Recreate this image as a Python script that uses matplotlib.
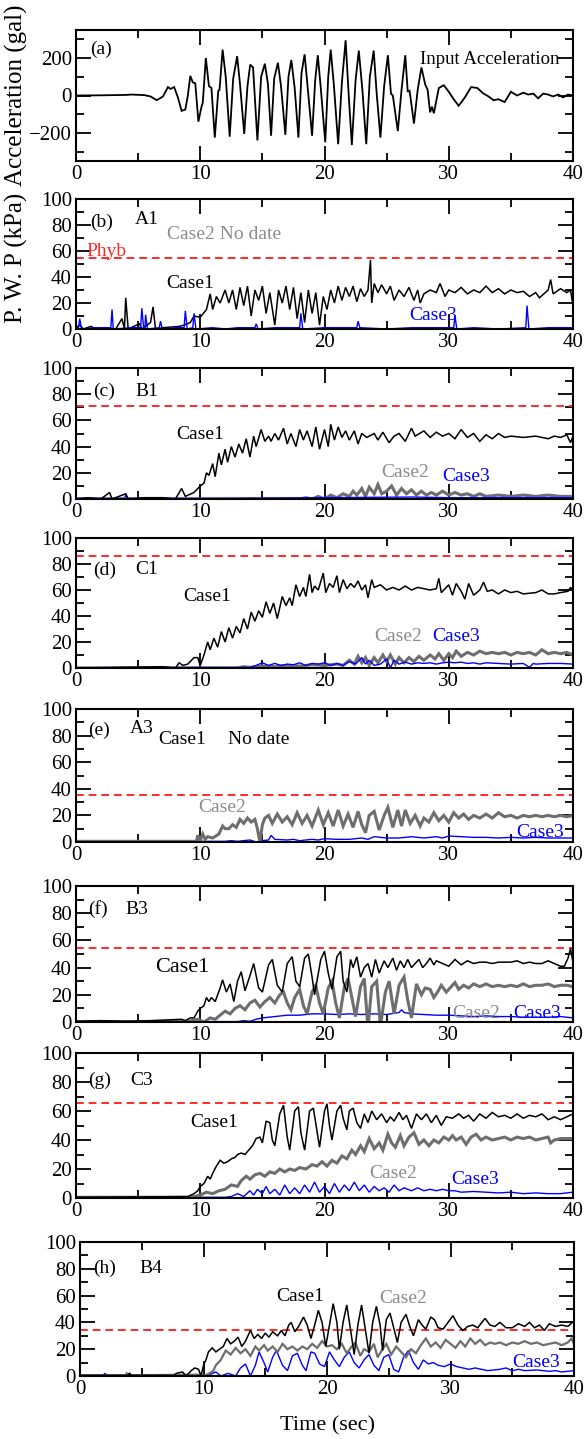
import matplotlib
matplotlib.use("Agg")
import matplotlib.pyplot as plt
from matplotlib.ticker import MultipleLocator

plt.rcParams['font.family'] = ['Liberation Serif', 'DejaVu Serif']

W, H = 585, 1439

# ---- input acceleration (gal), (time, value) ----
acc = [(0, 0), (2, 1), (4, 3), (4.5, 5), (5.5, 2), (6.0, -5), (6.5, -25), (7.0, -5),
       (7.4, 45), (7.6, 35), (7.9, 45), (8.2, -10), (8.5, -82), (8.8, -75), (9.0, 0),
       (9.2, 105), (9.4, 70), (9.6, 65), (9.85, -140), (10.1, -60), (10.2, -40),
       (10.45, 200), (10.7, 50), (10.9, 40), (11.17, -225), (11.45, 25), (11.55, 30),
       (11.8, 245), (12.05, 100), (12.37, -220), (12.65, 90), (12.97, 210), (13.2, 60),
       (13.54, -205), (13.8, 50), (14.02, 165), (14.25, 150), (14.6, -240), (14.9, 100),
       (15.2, 170), (15.45, 60), (15.7, -215), (15.95, 90), (16.25, 175), (16.5, 50),
       (16.85, -210), (17.1, 100), (17.33, 190), (17.6, 40), (17.9, -225), (18.15, 120),
       (18.4, 220), (18.65, 40), (19.0, -215), (19.25, 80), (19.46, 215), (19.7, 40),
       (20.06, -250), (20.3, 100), (20.5, 245), (20.75, 60), (21.1, -260), (21.4, 70),
       (21.7, 295), (21.95, 0), (22.2, -265), (22.5, 80), (22.76, 240), (23.05, 30),
       (23.36, -260), (23.65, 100), (23.96, 240), (24.2, 10), (24.5, -225), (24.8, 50),
       (25.1, 215), (25.35, 10), (25.5, 0), (25.9, -190), (26.2, 30), (26.5, 215),
       (26.7, 20), (26.85, 25), (27.2, -150), (27.5, 30), (27.8, 150), (28.1, 60),
       (28.3, 30), (28.5, -90), (28.65, -60), (28.8, -95), (29.2, 40), (29.6, 55),
       (30.0, 20), (30.4, -20), (30.8, -55), (31.3, -10), (31.8, 45), (32.3, 40),
       (32.8, 10), (33.2, -5), (33.6, -25), (34.0, -20), (34.5, -35), (35.0, 20),
       (35.5, 0), (36.0, 15), (36.4, 5), (36.8, 10), (37.2, -15), (37.6, 10), (38.0, 5),
       (38.4, -5), (38.8, 5), (39.2, -10), (39.6, 5), (40.0, 0)]

# ---- pore water pressure (kPa), (time, value) ----
b_case1 = [(0, 1), (0.3, 3), (0.6, 0), (1.2, 2), (1.6, 0), (2.5, 1), (3.2, 0), (3.7, 8),
           (3.9, 0), (4.0, 24), (4.2, 0), (5.1, 4), (5.3, 0), (6.0, 5), (6.2, 17), (6.4, 0),
           (7.0, 1), (8.3, 2), (8.7, 3), (9.2, 5), (9.5, 10), (10.0, 9), (10.5, 15),
           (10.8, 27), (11.0, 15), (11.3, 25), (11.6, 20), (12.0, 30), (12.3, 20), (12.6, 30),
           (12.9, 15), (13.2, 32), (13.5, 18), (13.8, 33), (14.1, 10), (14.4, 30), (14.7, 22),
           (15.0, 33), (15.3, 12), (15.6, 28), (16.0, 3), (16.3, 30), (16.6, 20), (16.9, 33),
           (17.2, 15), (17.5, 32), (17.8, 8), (18.1, 28), (18.4, 5), (18.7, 30), (19.0, 12),
           (19.3, 28), (19.6, 3), (19.9, 25), (20.2, 15), (20.5, 30), (20.8, 20), (21.1, 33),
           (21.4, 22), (21.7, 32), (22.0, 25), (22.3, 33), (22.6, 21), (22.9, 31), (23.2, 25),
           (23.5, 30), (23.7, 53), (23.8, 20), (24.0, 35), (24.3, 28), (24.6, 34), (25.0, 27),
           (25.3, 33), (25.6, 22), (26.0, 30), (26.4, 25), (26.8, 32), (27.2, 22), (27.5, 30),
           (27.7, 20), (28.0, 27), (28.5, 30), (29.0, 28), (29.3, 35), (29.7, 25), (30.0, 30),
           (30.5, 28), (31.0, 32), (31.5, 27), (32.0, 30), (32.5, 28), (33.0, 33), (33.5, 28),
           (34.0, 31), (34.5, 27), (35.0, 30), (35.5, 28), (36.0, 29), (36.5, 25), (37.0, 28),
           (37.3, 24), (38.0, 30), (38.2, 38), (38.4, 27), (39.0, 31), (39.5, 28), (39.8, 30),
           (40.0, 18)]
b_case3 = [(0, 1), (0.2, 1), (0.3, 8), (0.45, 0), (1.5, 1), (2.8, 1), (2.9, 15), (3.0, 0),
           (4.5, 1), (5.2, 1), (5.3, 16), (5.45, 0), (5.55, 1), (5.6, 11), (5.75, 0), (6.7, 1),
           (6.8, 6), (6.95, 0), (8.0, 1), (8.7, 1), (8.8, 14), (8.95, 0), (9.4, 1), (9.5, 12),
           (9.65, 0), (11, 1), (12, 0), (13, 1), (14.4, 1), (14.5, 4), (14.65, 0), (16, 1),
           (18.0, 1), (18.1, 12), (18.25, 0), (20, 1), (22.6, 1), (22.7, 6), (22.85, 1),
           (25, 0), (27, 1), (30.4, 1), (30.5, 10), (30.65, 0), (32, 1), (34, 0), (36.2, 1),
           (36.3, 18), (36.45, 0), (38, 1), (40, 1)]

c_case1 = [(0, 0), (1.0, 1), (2.0, 0), (2.7, 5), (2.9, 0), (4.0, 4), (4.2, 0), (5.5, 1),
           (7.0, 1), (8.0, 0), (8.5, 8), (8.8, 2), (9.5, 5), (10.0, 10), (10.3, 12),
           (10.5, 20), (10.7, 18), (11.0, 27), (11.2, 17), (11.5, 35), (11.7, 26), (12.0, 38),
           (12.2, 28), (12.5, 40), (12.8, 32), (13.1, 42), (13.4, 35), (13.7, 46), (14.0, 32),
           (14.3, 48), (14.5, 40), (14.9, 53), (15.2, 44), (15.5, 48), (15.7, 44), (16.0, 50),
           (16.3, 45), (16.7, 54), (17.0, 42), (17.3, 50), (17.7, 40), (18.0, 53), (18.3, 45),
           (18.6, 52), (19.0, 40), (19.3, 55), (19.6, 38), (20.0, 53), (20.3, 40), (20.5, 57),
           (20.8, 45), (21.1, 55), (21.4, 47), (21.7, 52), (22.0, 45), (22.4, 52), (22.7, 42),
           (23.0, 50), (23.4, 47), (24.0, 50), (24.3, 45), (24.7, 51), (25.2, 43), (25.6, 48),
           (26.0, 50), (26.5, 44), (27.0, 54), (27.3, 48), (28.0, 52), (28.5, 47), (29.0, 51),
           (29.5, 48), (30.0, 50), (30.5, 46), (31.0, 53), (31.5, 47), (32.0, 50), (32.5, 44),
           (33.0, 49), (33.5, 46), (34.0, 50), (34.5, 47), (35.0, 48), (36.0, 47), (37.0, 48),
           (38.0, 46), (38.5, 48), (39.0, 47), (39.5, 49), (39.8, 43), (40.0, 48)]
c_case2 = [(0, 0), (18.0, 0), (18.5, 1), (19.0, 0), (19.5, 2), (20.0, 0), (20.5, 3),
           (21.0, 1), (21.5, 4), (22.0, 2), (22.3, 6), (22.6, 3), (23.0, 8), (23.3, 2),
           (23.6, 9), (24.0, 4), (24.3, 11), (24.6, 4), (25.0, 6), (25.4, 10), (25.8, 3),
           (26.2, 8), (26.6, 4), (27.0, 7), (27.4, 3), (27.8, 6), (28.2, 3), (28.6, 5),
           (29.0, 3), (29.5, 6), (30.0, 3), (30.5, 5), (31.0, 3), (31.5, 4), (32.0, 2),
           (32.5, 4), (33.0, 2), (34.0, 3), (35.0, 2), (36.0, 3), (37.0, 2), (38.0, 3),
           (39.0, 2), (40.0, 2)]
c_case3 = [(0, 0.5), (3.9, 0.5), (4.0, 3), (4.2, 0.5), (10, 0.5), (20, 1), (27, 1.5),
           (30, 1), (40, 1)]

d_case1 = [(0, 0), (7.0, 1), (8.0, 0), (8.3, 4), (8.6, 2), (9.0, 3), (9.5, 8), (9.8, 8),
           (10.0, 2), (10.3, 10), (10.6, 20), (10.8, 14), (11.1, 23), (11.4, 16), (11.7, 28),
           (12.0, 20), (12.3, 31), (12.6, 23), (12.9, 32), (13.2, 27), (13.5, 38), (13.8, 30),
           (14.1, 43), (14.4, 36), (14.7, 44), (15.0, 39), (15.3, 51), (15.6, 42), (15.9, 50),
           (16.2, 38), (16.6, 55), (16.9, 48), (17.2, 54), (17.4, 48), (17.7, 64), (18.0, 55),
           (18.3, 62), (18.5, 55), (18.8, 72), (19.0, 58), (19.2, 63), (19.5, 60), (19.9, 73),
           (20.1, 58), (20.4, 65), (20.7, 62), (21.0, 71), (21.2, 58), (21.5, 68), (21.8, 61),
           (22.1, 65), (22.4, 62), (22.7, 67), (23.0, 60), (23.3, 64), (23.5, 54), (23.8, 68),
           (24.0, 62), (24.5, 64), (25.0, 60), (25.5, 62), (26.0, 60), (26.5, 63), (27.0, 60),
           (27.5, 62), (28.0, 61), (28.5, 60), (29.0, 61), (29.2, 69), (29.4, 58), (30.0, 64),
           (30.3, 56), (30.6, 65), (31.0, 59), (31.3, 53), (31.6, 65), (32.0, 56), (32.5, 60),
           (32.8, 66), (33.1, 59), (33.5, 60), (34.0, 57), (34.5, 60), (35.0, 58), (35.5, 59),
           (36.0, 57), (37.0, 58), (37.5, 60), (38.0, 57), (38.5, 57), (39.0, 58), (39.6, 59),
           (39.8, 62), (40.0, 60)]
d_case2 = [(0, 0), (13.0, 0), (13.5, 1), (14.0, 0.5), (15.0, 1.5), (16.0, 1), (17.0, 2),
           (18.0, 1.5), (19.0, 2.5), (20.0, 2), (21.0, 3), (21.5, 2), (22.0, 6), (22.4, 3),
           (22.7, 9), (23.0, 4), (23.3, 8), (23.6, 2), (24.0, 8), (24.3, 4), (24.7, 10),
           (25.0, 5), (25.3, 10), (25.7, 3), (26.0, 8), (26.4, 4), (26.8, 8), (27.2, 5),
           (27.6, 9), (28.0, 6), (28.5, 10), (28.9, 7), (29.2, 11), (29.6, 6), (30.0, 11),
           (30.3, 8), (30.6, 13), (31.0, 9), (31.5, 12), (32.0, 10), (32.5, 13), (33.0, 11),
           (33.5, 12), (34.0, 11), (34.5, 12), (35.0, 10), (35.5, 12), (36.0, 11), (36.5, 12),
           (37.0, 10), (37.5, 14), (38.0, 11), (38.5, 12), (39.0, 11), (39.5, 12), (40.0, 10)]
d_case3 = [(0, 0.3), (14.0, 0.5), (14.5, 2), (15.0, 4), (15.5, 2), (16.0, 3.5), (16.5, 2),
           (17.0, 3), (17.5, 2.5), (18.0, 4), (18.5, 2), (19.0, 3.5), (19.5, 3), (20.0, 4),
           (20.5, 2), (21.0, 3.5), (21.5, 2), (22.0, 5), (22.5, 3), (23.0, 8), (23.3, 3),
           (23.6, 6), (24.0, 2), (24.5, 3), (25.0, 7), (25.3, 0), (25.6, 6), (26.0, 3),
           (26.5, 4.5), (27.0, 3), (27.5, 4), (28.0, 3.5), (28.5, 4), (29.0, 3), (29.5, 4),
           (30.0, 4.5), (30.5, 4), (31.0, 4.5), (31.5, 3.5), (32.0, 4), (32.5, 3), (33.0, 4),
           (34.0, 3.5), (35.0, 3), (36.0, 3.5), (36.5, 0.5), (36.8, 3.5), (37.0, 3),
           (38.0, 3.5), (39.0, 3.5), (40.0, 3)]

e_case2 = [(0, 0.5), (9.7, 0.5), (9.8, 5), (10.0, 1), (10.2, 6), (10.4, 2), (10.6, 4),
           (11.0, 3), (11.5, 6), (11.8, 12), (12.0, 10), (12.3, 10), (12.6, 13), (12.9, 11),
           (13.2, 17), (13.5, 14), (13.8, 18), (14.1, 15), (14.4, 17), (14.6, 10), (14.8, 0),
           (15.0, 13), (15.2, 18), (15.5, 20), (15.8, 14), (16.2, 21), (16.6, 15), (17.0, 19),
           (17.4, 13), (17.8, 22), (18.2, 14), (18.6, 20), (19.0, 12), (19.5, 24), (19.9, 13),
           (20.3, 22), (20.7, 12), (21.1, 24), (21.5, 12), (21.9, 21), (22.3, 11), (22.7, 23),
           (23.0, 13), (23.3, 7), (23.6, 20), (24.0, 23), (24.4, 9), (24.8, 20), (25.1, 26),
           (25.5, 11), (25.9, 24), (26.2, 12), (26.5, 24), (26.9, 14), (27.3, 20), (27.7, 12),
           (28.0, 18), (28.4, 15), (28.8, 22), (29.2, 16), (29.6, 20), (30.0, 15), (30.4, 22),
           (30.8, 18), (31.2, 21), (31.6, 17), (32.0, 20), (32.5, 18), (33.0, 21), (33.5, 18),
           (34.0, 22), (34.5, 19), (35.0, 20), (35.5, 18), (36.0, 20), (36.5, 19), (37.0, 20),
           (37.5, 19), (38.0, 20), (38.5, 19), (39.0, 20), (39.5, 19), (40.0, 20)]
e_case3 = [(0, 0.5), (12.0, 0.5), (12.5, 1), (13.0, 0.5), (14.0, 1.5), (14.5, 0), (15.0, 1),
           (15.5, 1.5), (15.7, 5), (16.0, 2), (17.0, 1.5), (17.5, 2), (18.0, 1), (19.0, 2),
           (19.5, 1.5), (20.0, 2.5), (21.0, 2), (22.0, 2), (23.0, 3), (23.5, 2), (24.0, 4),
           (25.0, 3), (26.0, 3), (27.0, 4), (28.0, 3), (29.0, 4), (29.5, 3), (30.0, 4.5),
           (31.0, 4), (32.0, 3.5), (33.0, 3.5), (34.0, 3), (35.0, 3.5), (36.0, 3), (37.0, 3.5),
           (38.0, 3), (39.0, 3), (40.0, 3)]

f_case1 = [(0, 0.5), (2.0, 1), (4.0, 0.5), (6.0, 1), (8.5, 2), (8.8, 1), (9.2, 3), (9.5, 3),
           (9.8, 8), (10.0, 10), (10.3, 12), (10.5, 18), (10.7, 15), (10.9, 18), (11.2, 15),
           (11.6, 25), (11.8, 31), (12.1, 22), (12.4, 28), (12.7, 15), (13.0, 30), (13.3, 37),
           (13.6, 23), (14.0, 34), (14.3, 43), (14.7, 25), (15.0, 22), (15.5, 42), (15.8, 46),
           (16.2, 27), (16.6, 22), (17.0, 43), (17.4, 48), (17.7, 30), (18.0, 26), (18.4, 47),
           (18.7, 50), (19.0, 33), (19.2, 20), (19.7, 46), (20.0, 52), (20.3, 36), (20.6, 24),
           (21.0, 48), (21.3, 52), (21.5, 30), (21.8, 22), (22.1, 46), (22.3, 40), (22.6, 48),
           (22.9, 33), (23.2, 40), (23.5, 43), (23.8, 33), (24.1, 46), (24.4, 36), (24.8, 45),
           (25.1, 40), (25.5, 47), (25.8, 38), (26.1, 45), (26.4, 40), (26.7, 46), (27.0, 40),
           (27.3, 43), (27.6, 46), (27.9, 40), (28.2, 43), (28.5, 47), (28.8, 42), (29.0, 45),
           (29.5, 43), (30.0, 41), (30.5, 46), (31.0, 42), (31.5, 45), (32.0, 43), (32.5, 44),
           (33.0, 44), (33.5, 43), (34.0, 44), (35.0, 44), (35.5, 45), (36.0, 43), (36.5, 44),
           (37.0, 43), (37.5, 43), (38.0, 45), (38.5, 43), (39.0, 41), (39.3, 41), (39.6, 47),
           (39.8, 54), (40.0, 44)]
f_case2 = [(0, 0.3), (9.0, 0.3), (9.3, 1), (9.8, 2), (10.3, 0), (10.8, 3), (11.2, 2),
           (11.6, 5), (12.0, 8), (12.4, 6), (12.8, 10), (13.2, 12), (13.6, 9), (14.0, 14),
           (14.4, 16), (14.8, 11), (15.2, 15), (15.6, 18), (16.0, 14), (16.4, 20), (16.7, 22),
           (17.0, 14), (17.3, 9), (17.6, 18), (18.0, 24), (18.3, 12), (18.6, 6), (19.0, 22),
           (19.3, 27), (19.6, 14), (19.9, 6), (20.3, 25), (20.6, 30), (20.9, 14), (21.2, 3),
           (21.6, 26), (21.9, 32), (22.2, 18), (22.5, 4), (22.9, 26), (23.2, 32), (23.5, -5),
           (23.8, 26), (24.2, 30), (24.5, -3), (24.9, 22), (25.2, 30), (25.6, 6), (26.0, 27),
           (26.4, 33), (26.7, 16), (27.0, 3), (27.4, 28), (27.8, 20), (28.1, 25), (28.5, 24),
           (28.8, 18), (29.1, 22), (29.4, 27), (29.8, 22), (30.1, 25), (30.5, 29), (30.8, 24),
           (31.2, 27), (31.6, 25), (32.0, 28), (32.5, 26), (33.0, 28), (33.5, 26), (34.0, 27),
           (34.5, 26), (35.0, 27), (35.5, 26), (36.0, 28), (36.5, 26), (37.0, 27), (37.5, 27),
           (38.0, 28), (38.5, 26), (39.0, 27), (39.5, 27), (40.0, 26)]
f_case3 = [(0, 0.3), (13.0, 0.3), (13.5, 1), (14.0, 0.5), (14.5, 2), (15.0, 3), (16.0, 4),
           (17.0, 5), (18.0, 5), (19.0, 6), (20.0, 6), (21.0, 5.5), (22.0, 6), (23.0, 5.5),
           (24.0, 6), (25.0, 5.5), (26.0, 7), (26.2, 9), (26.4, 7), (27.0, 6), (28.0, 5.5),
           (29.0, 5), (30.0, 5), (31.0, 4.5), (32.0, 4), (33.0, 4.5), (34.0, 4), (35.0, 4),
           (36.0, 3.5), (37.0, 3.5), (38.0, 3.5), (39.0, 4), (40.0, 3)]

g_case1 = [(0, 0.5), (9.0, 1), (9.5, 3), (9.8, 5), (10.0, 8), (10.3, 10), (10.6, 15),
           (10.8, 13), (11.0, 17), (11.3, 22), (11.6, 26), (11.9, 24), (12.2, 25), (12.5, 27),
           (12.8, 28), (13.0, 30), (13.3, 31), (13.6, 30), (13.9, 33), (14.2, 36), (14.5, 41),
           (14.8, 42), (15.0, 38), (15.3, 53), (15.6, 52), (15.8, 40), (16.0, 36), (16.4, 58),
           (16.7, 64), (17.0, 42), (17.2, 33), (17.6, 60), (17.9, 63), (18.1, 45), (18.4, 33),
           (18.8, 60), (19.1, 62), (19.4, 46), (19.6, 35), (20.0, 60), (20.2, 65), (20.4, 50),
           (20.6, 40), (21.0, 60), (21.3, 64), (21.5, 55), (21.8, 47), (22.0, 60), (22.3, 62),
           (22.6, 52), (22.9, 48), (23.2, 58), (23.5, 52), (23.8, 60), (24.2, 54), (24.6, 58),
           (25.0, 52), (25.3, 56), (25.6, 53), (26.0, 59), (26.3, 54), (26.6, 57), (27.0, 48),
           (27.4, 58), (27.8, 54), (28.2, 58), (28.6, 52), (29.0, 57), (29.4, 50), (29.8, 56),
           (30.3, 55), (30.8, 58), (31.2, 55), (31.6, 57), (32.0, 53), (32.5, 58), (33.0, 55),
           (33.5, 59), (34.0, 56), (34.5, 57), (35.0, 55), (35.5, 58), (36.0, 55), (36.5, 57),
           (37.0, 56), (37.5, 58), (38.0, 54), (38.5, 56), (39.0, 54), (39.5, 56), (40.0, 58)]
g_case2 = [(0, 0.5), (9.0, 0.5), (9.5, 1), (10.0, 2), (10.5, 4), (11.0, 3), (11.5, 5),
           (12.0, 6), (12.5, 9), (13.0, 8), (13.3, 12), (13.7, 15), (14.0, 13), (14.4, 16),
           (14.8, 17), (15.2, 15), (15.6, 18), (16.0, 17), (16.4, 20), (16.8, 18), (17.2, 20),
           (17.6, 19), (18.0, 21), (18.5, 20), (19.0, 23), (19.4, 22), (19.8, 25), (20.2, 22),
           (20.6, 26), (21.0, 24), (21.4, 29), (21.8, 27), (22.2, 33), (22.5, 30), (22.9, 36),
           (23.2, 32), (23.6, 41), (24.0, 34), (24.4, 38), (24.7, 33), (25.1, 44), (25.4, 38),
           (25.7, 35), (26.1, 43), (26.4, 36), (26.8, 42), (27.2, 45), (27.6, 37), (28.0, 40),
           (28.4, 36), (28.8, 40), (29.2, 38), (29.6, 42), (30.0, 40), (30.3, 43), (30.6, 40),
           (31.0, 42), (31.4, 37), (31.8, 42), (32.2, 44), (32.6, 40), (33.0, 42), (33.5, 40),
           (34.0, 41), (34.5, 42), (35.0, 40), (35.5, 42), (36.0, 41), (36.5, 42), (37.0, 40),
           (37.5, 41), (38.0, 42), (38.2, 38), (38.5, 40), (39.0, 41), (39.5, 41), (40.0, 41)]
g_case3 = [(0, 0.5), (12.0, 0.5), (12.5, 1), (13.0, 3), (13.5, 1), (14.0, 5), (14.3, 2),
           (14.6, 6), (15.0, 3), (15.3, 8), (15.6, 3), (16.0, 6), (16.4, 2), (16.8, 9),
           (17.2, 3), (17.6, 7), (18.0, 3), (18.4, 9), (18.8, 4), (19.2, 11), (19.6, 4),
           (20.0, 8), (20.4, 3), (20.8, 10), (21.2, 4), (21.6, 9), (22.0, 5), (22.4, 11),
           (22.8, 5), (23.2, 9), (23.6, 4), (24.0, 8), (24.4, 5), (24.8, 7), (25.2, 4),
           (25.6, 9), (26.0, 5), (26.4, 7), (27.0, 5), (27.5, 7), (28.0, 5), (28.5, 6),
           (29.0, 5), (29.5, 6), (30.0, 5), (30.5, 5), (31.0, 4), (32.0, 4.5), (33.0, 4),
           (34.0, 3.5), (35.0, 4), (36.0, 3), (37.0, 3.5), (38.0, 3), (39.0, 3), (40.0, 4)]

h_case1 = [(0, 0.5), (3.9, 0.5), (4.0, 2), (4.2, 0.5), (7.6, 0.5), (7.8, 2), (8.3, 3),
           (8.6, 0), (9.0, 4), (9.3, 6), (9.6, 5), (9.8, 0), (10.0, 8), (10.2, 12), (10.4, 18),
           (10.7, 21), (11.0, 18), (11.3, 20), (11.6, 22), (11.9, 28), (12.2, 24), (12.5, 26),
           (12.8, 29), (13.1, 22), (13.4, 26), (13.8, 34), (14.1, 28), (14.4, 31), (14.7, 28),
           (15.0, 32), (15.3, 29), (15.6, 33), (16.0, 30), (16.3, 34), (16.6, 30), (16.9, 38),
           (17.1, 40), (17.4, 33), (17.7, 37), (18.1, 44), (18.4, 38), (18.7, 28), (19.0, 38),
           (19.3, 49), (19.6, 40), (19.9, 22), (20.2, 38), (20.5, 54), (20.8, 40), (21.0, 20),
           (21.3, 40), (21.6, 53), (21.9, 35), (22.2, 16), (22.5, 38), (22.8, 53), (23.1, 35),
           (23.4, 17), (23.7, 40), (24.0, 52), (24.3, 38), (24.5, 19), (24.8, 42), (25.1, 47),
           (25.4, 36), (25.7, 25), (26.0, 40), (26.4, 46), (26.7, 37), (27.0, 30), (27.4, 42),
           (27.7, 38), (28.0, 35), (28.4, 44), (28.7, 42), (29.0, 36), (29.4, 35), (29.8, 40),
           (30.2, 45), (30.6, 38), (31.0, 34), (31.4, 37), (31.8, 38), (32.2, 36), (32.8, 43),
           (33.2, 38), (33.6, 37), (34.0, 40), (34.5, 36), (35.0, 36), (35.5, 39), (36.0, 37),
           (36.4, 40), (36.8, 36), (37.2, 38), (37.6, 34), (38.0, 39), (38.5, 37), (39.0, 38),
           (39.5, 37), (40.0, 41)]
h_case2 = [(0, 0.5), (3.7, 0.5), (3.8, 2), (4.0, 0.5), (9.6, 1), (10.0, 0), (10.5, 2),
           (10.8, 4), (11.0, 8), (11.4, 12), (11.8, 19), (12.2, 16), (12.6, 21), (13.0, 17),
           (13.4, 20), (13.8, 15), (14.2, 22), (14.5, 19), (14.9, 23), (15.2, 19), (15.6, 22),
           (16.0, 18), (16.4, 24), (16.8, 20), (17.2, 22), (17.6, 19), (18.0, 22), (18.4, 20),
           (18.8, 24), (19.2, 21), (19.6, 26), (20.0, 22), (20.4, 23), (20.8, 20), (21.2, 24),
           (21.6, 17), (22.0, 22), (22.3, 25), (22.7, 15), (23.0, 20), (23.4, 18), (23.8, 24),
           (24.1, 14), (24.5, 20), (24.8, 24), (25.2, 16), (25.6, 22), (26.0, 18), (26.4, 14),
           (26.8, 20), (27.2, 17), (27.6, 23), (28.0, 28), (28.4, 22), (28.8, 25), (29.2, 21),
           (29.6, 27), (30.0, 24), (30.4, 21), (30.8, 26), (31.2, 22), (31.6, 28), (32.0, 24),
           (32.4, 27), (32.8, 23), (33.2, 25), (33.6, 24), (34.0, 25), (34.5, 23), (35.0, 25),
           (35.5, 24), (36.0, 26), (36.5, 24), (37.0, 25), (37.5, 23), (38.0, 24), (38.5, 25),
           (39.0, 23), (39.5, 25), (39.8, 28), (40.0, 24)]
h_case3 = [(0, 0.5), (1.9, 0.5), (2.0, 2), (2.2, 0.5), (10.0, 0.5), (10.5, 1), (11.0, 3),
           (11.4, 0), (12.0, 2), (12.6, 0), (13.0, 6), (13.4, 9), (13.8, 0), (14.2, 8),
           (14.5, 18), (14.9, 10), (15.2, 3), (15.6, 14), (15.9, 19), (16.4, 8), (16.8, 4),
           (17.2, 15), (17.6, 17), (18.0, 8), (18.3, 4), (18.7, 18), (19.0, 17), (19.4, 9),
           (19.8, 7), (20.2, 18), (20.6, 12), (21.0, 7), (21.4, 14), (21.8, 18), (22.2, 10),
           (22.6, 6), (23.0, 12), (23.4, 16), (23.8, 8), (24.2, 4), (24.6, 14), (25.0, 16),
           (25.4, 5), (25.8, 3), (26.2, 14), (26.6, 19), (27.0, 10), (27.4, 5), (27.8, 12),
           (28.2, 9), (28.6, 10), (29.0, 8), (29.5, 7), (30.0, 9), (30.5, 7), (31.0, 6),
           (31.5, 5), (32.0, 6), (33.0, 4), (34.0, 5), (34.5, 6), (35.0, 4), (35.5, 5),
           (36.0, 4), (37.0, 4.5), (38.0, 3.5), (38.5, 4), (39.0, 3), (39.5, 3.5), (40.0, 4)]

# hydrostatic reference level for each station (kPa)
phyb = {'b': 54.5, 'c': 71, 'd': 86, 'e': 35.5, 'f': 54.5, 'g': 65.5, 'h': 34.5}

# axes boxes in pixels: left, top, right, bottom
boxes = {'a': (76, 30, 573, 161), 'b': (76, 199, 573, 329), 'c': (76, 368, 573, 499),
         'd': (76, 538, 573, 668), 'e': (76, 709, 573, 842), 'f': (76, 886, 573, 1022),
         'g': (76, 1053, 573, 1198), 'h': (80, 1242, 574, 1376)}

C1, C2, C3 = 'black', '#6e6e6e', '#0000ff'
LBL2 = '#8c8c8c'
RED = '#ff2a2a'
FS = 14

fig = plt.figure(figsize=(W / 100, H / 100), dpi=100)


def make_ax(key):
    l, t, r, b = boxes[key]
    ax = fig.add_axes([l / W, 1 - b / H, (r - l) / W, (b - t) / H])
    ax.set_xlim(0, 40)
    ax.xaxis.set_major_locator(MultipleLocator(10))
    ax.xaxis.set_minor_locator(MultipleLocator(5))
    ax.tick_params(which='both', direction='in', top=True, right=True,
                   labelsize=FS + 1, width=1.3, pad=3)
    ax.tick_params(which='major', length=11)
    ax.tick_params(which='minor', length=6)
    for s in ax.spines.values():
        s.set_linewidth(1.5)
    return ax


def plot_series(ax, pts, color, lw):
    ax.plot([p[0] for p in pts], [p[1] for p in pts], color=color, lw=lw,
            solid_joinstyle='miter')


def pwp_ax(key):
    ax = make_ax(key)
    ax.set_ylim(0, 100)
    ax.yaxis.set_major_locator(MultipleLocator(20))
    ax.yaxis.set_minor_locator(MultipleLocator(10))
    ax.axhline(phyb[key], color=RED, lw=1.4, ls=(0, (4, 2.5)))
    return ax


def txt(ax, x, y, s, color='black', size=FS):
    ax.text(x, y, s, color=color, fontsize=size, va='center', ha='left')


# (a) input acceleration
ax = make_ax('a')
ax.set_ylim(-350, 350)
ax.yaxis.set_major_locator(MultipleLocator(200))
ax.yaxis.set_minor_locator(MultipleLocator(100))
plot_series(ax, acc, 'black', 1.3)
txt(ax, 1.1, 245, '(a)')
ax.text(38.9, 195, 'Input Acceleration', fontsize=FS - 0.5, va='center', ha='right')
ax.set_ylabel('Acceleration (gal)', fontsize=FS + 4)
ax.yaxis.set_label_coords(-0.097, 0.5)

# (b) A1
ax = pwp_ax('b')
plot_series(ax, b_case1, C1, 1.1)
plot_series(ax, b_case3, C3, 1.0)
txt(ax, 1.1, 82, '(b)')
txt(ax, 4.7, 84, 'A1')
txt(ax, 7.3, 73, 'Case2 No date', color=LBL2)
txt(ax, 0.8, 60, 'Phyb', color=RED)
txt(ax, 7.3, 35, 'Case1')
txt(ax, 26.8, 10, 'Case3', color=C3)
ax.set_ylabel('P. W. P (kPa)', fontsize=FS + 4)
ax.yaxis.set_label_coords(-0.097, 0.55)

# (c) B1
ax = pwp_ax('c')
plot_series(ax, c_case2, C2, 2.2)
plot_series(ax, c_case3, C3, 1.0)
plot_series(ax, c_case1, C1, 1.1)
txt(ax, 1.4, 82, '(c)')
txt(ax, 4.8, 82, 'B1')
txt(ax, 8.1, 49, 'Case1')
txt(ax, 24.6, 20, 'Case2', color=LBL2)
txt(ax, 29.5, 17, 'Case3', color=C3)

# (d) C1
ax = pwp_ax('d')
plot_series(ax, d_case2, C2, 2.2)
plot_series(ax, d_case3, C3, 1.0)
plot_series(ax, d_case1, C1, 1.1)
txt(ax, 1.4, 75, '(d)')
txt(ax, 4.8, 76, 'C1')
txt(ax, 8.6, 55, 'Case1')
txt(ax, 24.0, 24, 'Case2', color=LBL2)
txt(ax, 28.7, 24, 'Case3', color=C3)

# (e) A3
ax = pwp_ax('e')
plot_series(ax, e_case3, C3, 1.0)
plot_series(ax, e_case2, C2, 2.2)
txt(ax, 1.0, 84, '(e)')
txt(ax, 4.3, 85, 'A3')
txt(ax, 6.6, 77, 'Case1')
txt(ax, 12.2, 77, 'No date')
txt(ax, 9.8, 26, 'Case2', color=LBL2)
txt(ax, 35.4, 7, 'Case3', color=C3)

# (f) B3
ax = pwp_ax('f')
plot_series(ax, f_case3, C3, 1.0)
plot_series(ax, f_case2, C2, 2.2)
plot_series(ax, f_case1, C1, 1.1)
txt(ax, 1.0, 83, '(f)')
txt(ax, 4.0, 83, 'B3')
txt(ax, 6.4, 40, 'Case1', size=FS + 2)
txt(ax, 30.3, 6, 'Case2', color=LBL2)
txt(ax, 35.2, 6, 'Case3', color=C3)

# (g) C3
ax = pwp_ax('g')
plot_series(ax, g_case3, C3, 1.0)
plot_series(ax, g_case2, C2, 2.2)
plot_series(ax, g_case1, C1, 1.1)
txt(ax, 1.0, 81, '(g)')
txt(ax, 4.4, 81, 'C3')
txt(ax, 9.2, 52, 'Case1')
txt(ax, 23.6, 17, 'Case2', color=LBL2)
txt(ax, 30.2, 13, 'Case3', color=C3)

# (h) B4
ax = pwp_ax('h')
plot_series(ax, h_case3, C3, 1.0)
plot_series(ax, h_case2, C2, 1.6)
plot_series(ax, h_case1, C1, 1.1)
txt(ax, 1.1, 80, '(h)')
txt(ax, 4.8, 80, 'B4')
txt(ax, 15.9, 59, 'Case1')
txt(ax, 24.2, 58, 'Case2', color=LBL2)
txt(ax, 35.0, 10, 'Case3', color=C3)
ax.set_xlabel('Time (sec)', fontsize=FS + 2, labelpad=12)

fig.savefig('out.png', dpi=100)
